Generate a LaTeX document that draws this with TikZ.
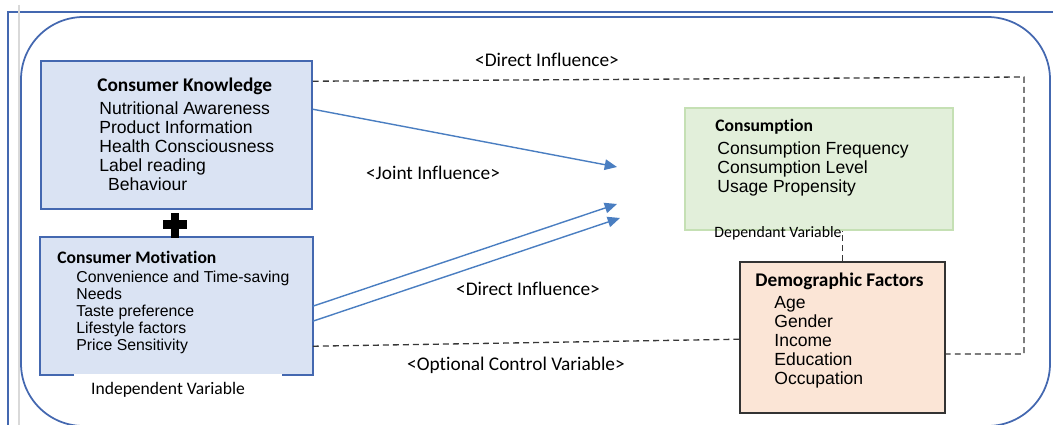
\documentclass[tikz,border=0pt]{standalone}
\usepackage{fontspec}
\setmainfont{Liberation Sans}
\newfontfamily\calibri{Carlito}[Ligatures=NoCommon]
\usetikzlibrary{arrows.meta,calc}

\definecolor{frameblue}{RGB}{68,104,176}
\definecolor{boxblue}{RGB}{218,227,243}
\definecolor{boxgreen}{RGB}{226,239,218}
\definecolor{edgegreen}{RGB}{197,224,180}
\definecolor{boxpeach}{RGB}{251,229,214}
\definecolor{arrowblue}{RGB}{74,126,193}
\definecolor{dashgray}{RGB}{55,55,55}

\tikzset{
  varbox/.style={rectangle, inner sep=0pt, line width=0.9pt},
  heading/.style={font=\calibri\bfseries\fontsize{11}{13}\selectfont, anchor=west, inner sep=0pt},
  items/.style={font=\fontsize{10}{10.8}\selectfont, align=left, anchor=north west, inner sep=0pt},
  tag/.style={font=\calibri\fontsize{11}{13}\selectfont, inner sep=0pt},
  influence/.style={arrowblue, line width=0.8pt, -{Triangle[length=7pt,width=6pt]}},
  control/.style={dashgray, line width=0.75pt, dash pattern=on 3.4pt off 2.3pt},
}

\begin{document}
\begin{tikzpicture}[x=0.02cm, y=-0.02cm]
\useasboundingbox (0,0) rectangle (1053,425);

% outer frame
\draw[frameblue, line width=0.9pt] (1053,12) -- (8,12) -- (8,425);
\draw[black!15, line width=1.5pt] (19,5) -- (19,425);
\draw[frameblue, line width=1pt, rounded corners=1.25cm] (21,17) rectangle (1050,426);

% variable boxes
\node[varbox, draw=frameblue, fill=boxblue, minimum width=5.42cm, minimum height=2.96cm] (know) at (176.5,135) {};
\node[varbox, fill=boxblue, minimum width=5.42cm, minimum height=2.72cm] (motiv) at (176.5,306) {};
\draw[frameblue, line width=0.9pt] ($(motiv.south west)+(34,0)$) -- (motiv.south west) -- (motiv.north west)
  -- (motiv.north east) -- (motiv.south east) -- ++(-31,0);
\node[varbox, draw=edgegreen, fill=boxgreen, minimum width=5.36cm, minimum height=2.44cm] (cons) at (819,169) {};
\node[varbox, draw=black!80, fill=boxpeach, minimum width=4.1cm, minimum height=3.02cm] (demo) at (842.5,337.5) {};

% plus between the two independent boxes
\fill (163,220) rectangle (187,229);
\fill (171,213) rectangle (179,238);

% box texts
\node[heading] (knowtitle) at (97,86) {Consumer Knowledge};
\node[items] (knowlist) at (99,101.5) {Nutritional Awareness\\Product Information\\Health Consciousness\\Label reading\\\hspace{5pt}Behaviour};
\node[heading, font=\calibri\bfseries\fontsize{10}{12}\selectfont] (motivtitle) at (57,257) {Consumer Motivation};
\node[items, font=\fontsize{9}{9.6}\selectfont] (motivlist) at (76,271) {Convenience and Time-saving\\Needs\\Taste preference\\Lifestyle factors\\Price Sensitivity};
\node[heading, font=\calibri\bfseries\fontsize{10}{12}\selectfont] (constitle) at (715,127) {Consumption};
\node[items] (conslist) at (717,141.5) {Consumption Frequency\\Consumption Level\\Usage Propensity};
\node[heading] (demotitle) at (755,281) {Demographic Factors};
\node[items] (demolist) at (774,295.7) {Age\\Gender\\Income\\Education\\Occupation};

% labels
\node[tag] (directtop) at (547,60) {<Direct Influence>};
\node[tag] (joint) at (433,173) {<Joint Influence>};
\node[tag] (directlow) at (528,289) {<Direct Influence>};
\node[tag] (optional) at (516,365) {<Optional Control Variable>};
\node[tag, font=\calibri\fontsize{10}{12}\selectfont] (indep) at (168,390) {Independent Variable};
\node[tag, font=\calibri\fontsize{9}{11}\selectfont] (dep) at (778,233) {Dependant Variable};

% connectors
\coordinate (topright) at (1024,77);
\coordinate (lowright) at (1024,354);
\draw[control] ($(know.north east)+(0,21)$) -- (topright) -- (lowright) -- (demo.east |- lowright);
\draw[control] ($(motiv.north east)+(0,109)$) -- ($(demo.north west)+(0,78)$);
\draw[control] (demo.north) -- (demo.north |- cons.south);

\coordinate (tipa) at (617,167);
\coordinate (tipb) at (617,204);
\coordinate (tipc) at (620,218);
\draw[influence] ($(know.north east)+(0,49)$) -- (tipa);
\draw[influence] ($(motiv.north east)+(0,69)$) -- (tipb);
\draw[influence] ($(motiv.north east)+(0,84)$) -- (tipc);
\end{tikzpicture}
\end{document}
